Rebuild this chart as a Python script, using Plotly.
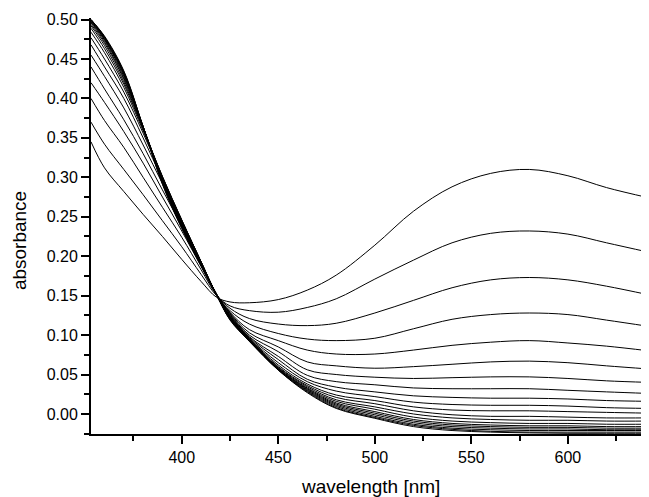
import plotly.graph_objects as go

wavelength = [353, 360, 370, 380, 390, 400, 410, 418, 425, 435, 450, 465, 480, 500, 520, 540, 560, 580, 600, 620, 642]

c01 = [0.345, 0.312, 0.282, 0.253, 0.225, 0.196, 0.168, 0.148, 0.142, 0.141, 0.145, 0.157, 0.176, 0.214, 0.257, 0.288, 0.305, 0.310, 0.302, 0.287, 0.274]
c02 = [0.370, 0.342, 0.310, 0.278, 0.245, 0.212, 0.177, 0.150, 0.137, 0.131, 0.129, 0.135, 0.146, 0.171, 0.195, 0.217, 0.229, 0.232, 0.228, 0.217, 0.205]
c03 = [0.400, 0.372, 0.338, 0.300, 0.262, 0.224, 0.183, 0.151, 0.134, 0.121, 0.114, 0.112, 0.115, 0.128, 0.144, 0.160, 0.170, 0.173, 0.170, 0.162, 0.151]
c04 = [0.420, 0.395, 0.358, 0.318, 0.275, 0.232, 0.187, 0.151, 0.131, 0.114, 0.102, 0.095, 0.093, 0.096, 0.108, 0.120, 0.126, 0.128, 0.126, 0.119, 0.111]
c05 = [0.440, 0.412, 0.373, 0.330, 0.284, 0.238, 0.190, 0.152, 0.129, 0.107, 0.093, 0.081, 0.076, 0.076, 0.081, 0.087, 0.091, 0.093, 0.090, 0.086, 0.080]
c06 = [0.455, 0.428, 0.388, 0.341, 0.292, 0.242, 0.192, 0.152, 0.128, 0.103, 0.085, 0.066, 0.061, 0.058, 0.060, 0.063, 0.066, 0.067, 0.065, 0.061, 0.057]
c07 = [0.468, 0.440, 0.400, 0.350, 0.297, 0.245, 0.193, 0.152, 0.127, 0.100, 0.079, 0.056, 0.050, 0.0466, 0.045, 0.046, 0.047, 0.047, 0.045, 0.042, 0.040]
c08 = [0.477, 0.450, 0.408, 0.356, 0.300, 0.246, 0.193, 0.152, 0.126, 0.098, 0.073, 0.049, 0.041, 0.037, 0.033, 0.032, 0.032, 0.032, 0.030, 0.028, 0.026]
c09 = [0.484, 0.458, 0.414, 0.359, 0.301, 0.246, 0.193, 0.151, 0.125, 0.097, 0.069, 0.044, 0.034, 0.028, 0.023, 0.021, 0.020, 0.020, 0.019, 0.017, 0.016]
c10 = [0.489, 0.463, 0.418, 0.361, 0.301, 0.245, 0.193, 0.151, 0.124, 0.096, 0.065, 0.041, 0.029, 0.022, 0.015, 0.012, 0.011, 0.011, 0.010, 0.008, 0.007]
c11 = [0.492, 0.467, 0.421, 0.362, 0.300, 0.244, 0.192, 0.151, 0.1235, 0.0955, 0.062, 0.038, 0.024, 0.017, 0.009, 0.005, 0.004, 0.004, 0.003, 0.002, 0.001]
c12 = [0.494, 0.470, 0.424, 0.363, 0.299, 0.243, 0.192, 0.151, 0.123, 0.095, 0.060, 0.036, 0.021, 0.013, 0.004, -0.001, -0.003, -0.003, -0.004, -0.005, -0.005]
c13 = [0.496, 0.472, 0.426, 0.364, 0.298, 0.242, 0.191, 0.151, 0.1225, 0.0945, 0.059, 0.0345, 0.018, 0.009, 0.000, -0.005, -0.007, -0.008, -0.008, -0.009, -0.009]
c14 = [0.497, 0.474, 0.428, 0.364, 0.297, 0.241, 0.191, 0.151, 0.122, 0.094, 0.058, 0.033, 0.016, 0.006, -0.004, -0.009, -0.011, -0.012, -0.012, -0.013, -0.013]
c15 = [0.498, 0.475, 0.430, 0.364, 0.296, 0.240, 0.190, 0.151, 0.1215, 0.0937, 0.0575, 0.032, 0.014, 0.003, -0.007, -0.012, -0.014, -0.015, -0.015, -0.016, -0.016]
c16 = [0.499, 0.476, 0.431, 0.364, 0.295, 0.239, 0.190, 0.151, 0.121, 0.0934, 0.057, 0.031, 0.0125, 0.001, -0.009, -0.014, -0.016, -0.017, -0.017, -0.018, -0.018]
c17 = [0.499, 0.477, 0.432, 0.364, 0.294, 0.238, 0.189, 0.151, 0.1205, 0.0931, 0.0565, 0.030, 0.011, -0.001, -0.011, -0.016, -0.018, -0.019, -0.019, -0.020, -0.020]
c18 = [0.500, 0.478, 0.433, 0.364, 0.293, 0.237, 0.189, 0.151, 0.120, 0.0928, 0.056, 0.029, 0.0095, -0.003, -0.013, -0.018, -0.020, -0.021, -0.021, -0.021, -0.021]
c19 = [0.500, 0.478, 0.434, 0.364, 0.292, 0.236, 0.188, 0.151, 0.1195, 0.0925, 0.0557, 0.028, 0.008, -0.0045, -0.0145, -0.0195, -0.022, -0.023, -0.023, -0.023, -0.023]
c20 = [0.500, 0.479, 0.435, 0.364, 0.291, 0.235, 0.188, 0.151, 0.119, 0.092, 0.0555, 0.027, 0.007, -0.0055, -0.016, -0.021, -0.023, -0.0240, -0.0245, -0.0245, -0.0245]

spectra = [c01, c02, c03, c04, c05, c06, c07, c08, c09, c10,
           c11, c12, c13, c14, c15, c16, c17, c18, c19, c20]

x_title = "wavelength [nm]"
y_title = "absorbance"

fig = go.Figure()
for s in spectra:
    fig.add_trace(go.Scatter(x=wavelength, y=s, mode="lines",
                             line=dict(color="black", width=1, shape="spline", smoothing=1.0),
                             showlegend=False, hoverinfo="skip"))

font_family = "Liberation Sans, Arial, sans-serif"

# the page body adds an 8px offset, so the figure is sized to end at the window edge
fig.update_layout(
    width=641, height=489,
    margin=dict(l=83, r=0, t=10, b=63),
    paper_bgcolor="white", plot_bgcolor="white",
    font=dict(family=font_family, size=16, color="black"),
    xaxis=dict(range=[353, 642], showgrid=False, zeroline=False,
               showline=True, linecolor="black", linewidth=2,
               ticks="outside", ticklen=8, tickwidth=1.5, tickcolor="black",
               tick0=400, dtick=50,
               minor=dict(dtick=25, tick0=375, ticks="outside", ticklen=5, tickwidth=1.5, tickcolor="black"),
               tickfont=dict(size=16)),
    yaxis=dict(range=[-0.0254, 0.502], showgrid=False, zeroline=False,
               showline=True, linecolor="black", linewidth=2,
               ticks="outside", ticklen=8, tickwidth=1.5, tickcolor="black",
               tick0=0, dtick=0.05, tickformat=".2f",
               minor=dict(dtick=0.025, tick0=0, ticks="outside", ticklen=5, tickwidth=1.5, tickcolor="black"),
               tickfont=dict(size=16)),
    annotations=[
        dict(text=x_title, xref="paper", yref="paper", x=0.5, y=-0.125,
             xanchor="center", yanchor="middle", showarrow=False,
             font=dict(size=19, family=font_family)),
        dict(text=y_title, xref="paper", yref="paper", x=-0.127, y=0.464,
             xanchor="center", yanchor="middle", showarrow=False, textangle=-90,
             font=dict(size=19, family=font_family)),
    ],
)

fig.write_html("out.html")
